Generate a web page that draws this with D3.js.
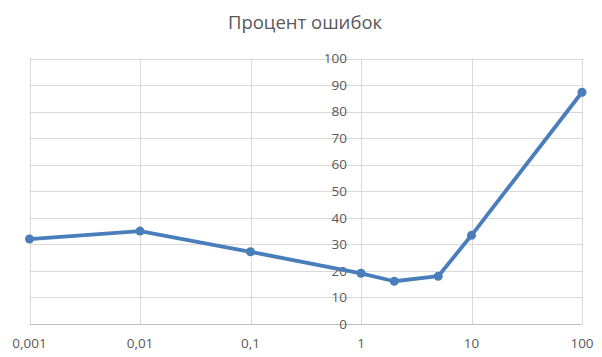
<!DOCTYPE html>
<html>
<head>
<meta charset="utf-8">
<script src="https://cdn.jsdelivr.net/npm/d3@7"></script>
<style>
  body { margin: 0; background: #fff; }
  text { font-family: "Open Sans", "Noto Sans", sans-serif; fill: #595959; }
</style>
</head>
<body>
<div id="chart"></div>
<script>
const title = "Процент ошибок";
const xValues = [0.001, 0.01, 0.1, 1, 2, 5, 10, 100];
const errorPct = [32, 35, 27.2, 19.1, 16.1, 18, 33.4, 87.3];
const xTicks = [0.001, 0.01, 0.1, 1, 10, 100];
const yTicks = [0, 10, 20, 30, 40, 50, 60, 70, 80, 90, 100];

const lineColor = "#4a7ebb";
const gridColor = "#d9d9d9";
const width = 602;
const height = 357;
const margins = { top: 58.5, bottom: 33, left: 29.5, right: 20 };

const svg = d3.select("#chart")
  .append("svg")
  .attr("width", width)
  .attr("height", height);

const x = d3.scaleLog()
  .domain([0.001, 100])
  .range([margins.left, width - margins.right]);

const y = d3.scaleLinear()
  .domain([0, 100])
  .range([height - margins.bottom, margins.top]);

const fmt = d => String(d).replace(".", ",");

// title
svg.append("text")
  .attr("x", 305)
  .attr("y", 29)
  .attr("text-anchor", "middle")
  .style("font-size", "18.5px")
  .text(title);

// horizontal grid
svg.append("g")
  .selectAll("line")
  .data(yTicks.filter(d => d > 0))
  .join("line")
  .attr("x1", x.range()[0])
  .attr("x2", x.range()[1])
  .attr("y1", d => Math.round(y(d)) + 0.5)
  .attr("y2", d => Math.round(y(d)) + 0.5)
  .attr("stroke", gridColor);

// vertical grid
svg.append("g")
  .selectAll("line")
  .data(xTicks)
  .join("line")
  .attr("x1", d => Math.round(x(d)) + 0.5)
  .attr("x2", d => Math.round(x(d)) + 0.5)
  .attr("y1", y(0))
  .attr("y2", y(100))
  .attr("stroke", gridColor);

// x axis line
svg.append("line")
  .attr("x1", x.range()[0])
  .attr("x2", x.range()[1])
  .attr("y1", Math.round(y(0)) + 0.5)
  .attr("y2", Math.round(y(0)) + 0.5)
  .attr("stroke", "#bfbfbf");

// x tick labels
svg.append("g")
  .selectAll("text")
  .data(xTicks)
  .join("text")
  .attr("x", d => x(d))
  .attr("y", height - 9)
  .attr("text-anchor", "middle")
  .style("font-size", "13.5px")
  .text(fmt);

// y tick labels, axis crosses at x = 1
svg.append("g")
  .selectAll("text")
  .data(yTicks)
  .join("text")
  .attr("x", x(1) - 14)
  .attr("y", d => y(d))
  .attr("dy", "0.35em")
  .attr("text-anchor", "end")
  .style("font-size", "13.5px")
  .text(d => d);

// series
const pts = xValues.map((v, i) => [v, errorPct[i]]);

svg.append("path")
  .datum(pts)
  .attr("fill", "none")
  .attr("stroke", lineColor)
  .attr("stroke-width", 3.8)
  .attr("stroke-linejoin", "round")
  .attr("d", d3.line().x(d => x(d[0])).y(d => y(d[1])));

svg.append("g")
  .selectAll("circle")
  .data(pts)
  .join("circle")
  .attr("cx", d => x(d[0]))
  .attr("cy", d => y(d[1]))
  .attr("r", 4.5)
  .attr("fill", lineColor);
</script>
</body>
</html>
